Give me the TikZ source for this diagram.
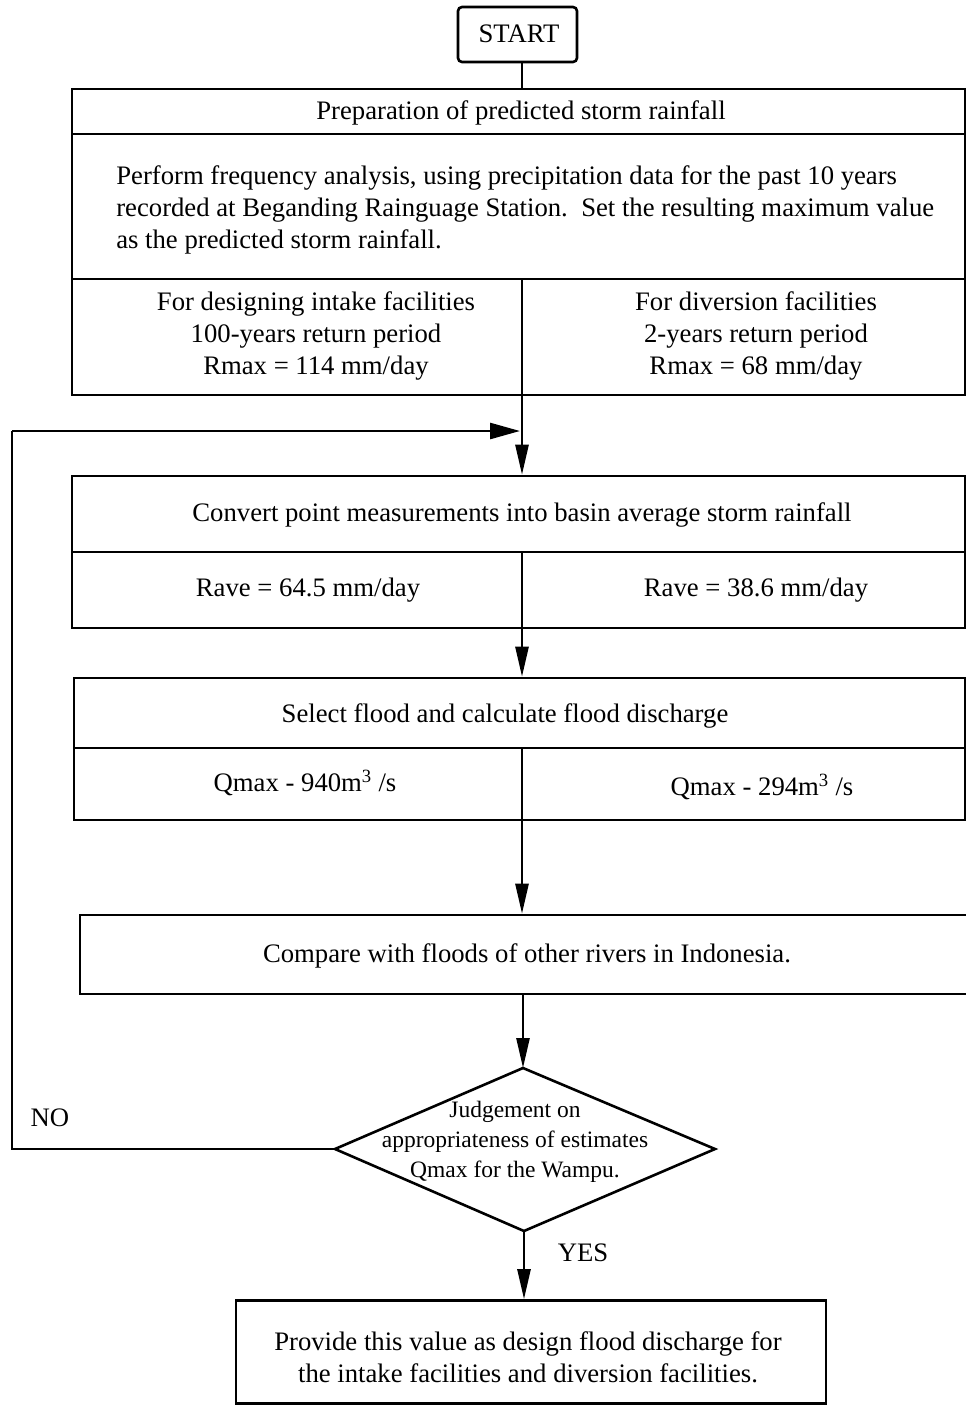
\documentclass[tikz,border=0pt]{standalone}
\usepackage{fontspec}
\setmainfont{Liberation Serif}
\usetikzlibrary{arrows.meta,shapes.geometric}
\begin{document}
\begin{tikzpicture}[x=1pt,y=-1pt,
  line width=2.6pt,
  box/.style={draw,rectangle,inner sep=0pt},
  txt/.style={inner sep=0pt,font=\fontsize{26.7}{32}\selectfont,align=center},
  dtxt/.style={inner sep=0pt,font=\fontsize{23.5}{30}\selectfont,align=center},
  arr/.style={-{Triangle[length=30pt,width=13pt]}},
  harr/.style={-{Triangle[length=30pt,width=16pt]}}
]
\useasboundingbox[fill=white] (0,0) rectangle (966,1406);
% START
\node[box,rounded corners=4pt,minimum width=119pt,minimum height=55pt] (start) at (517.5,34.5) {};
\node[txt] (starttxt) at (519,34) {START};
% Box 1
\node[box,minimum width=893pt,minimum height=306pt] (b1) at (518.5,242) {};
\coordinate (b1h) at (72,134);
\coordinate (b1s) at (72,279);
\draw (b1h) -- (b1h -| b1.east);
\draw (b1s) -- (b1s -| b1.east);
\coordinate (d1) at (522,279);
\node[txt] (t1) at (521,113) {Preparation of predicted storm rainfall};
\node[txt,align=left,anchor=west] (t2) at (115,210) {Perform frequency analysis, using precipitation data for the past 10 years\\recorded at Beganding Rainguage Station.\ \ Set the resulting maximum value\\as the predicted storm rainfall.};
\node[txt] (t3) at (316,336) {For designing intake facilities\\100-years return period\\Rmax = 114 mm/day};
\node[txt] (t4) at (756,336) {For diversion facilities\\2-years return period\\Rmax = 68 mm/day};
\coordinate (sc) at (522,62);
\draw (sc) -- (sc |- b1.north);
% Box 2
\node[box,minimum width=893pt,minimum height=152pt] (b2) at (518.5,552) {};
\coordinate (b2s) at (72,552);
\draw (b2s) -- (b2s -| b2.east);
\node[txt] (t5) at (522,515) {Convert point measurements into basin average storm rainfall};
\node[txt] (t6) at (308,590) {Rave = 64.5 mm/day};
\node[txt] (t7) at (756,590) {Rave = 38.6 mm/day};
\coordinate (d2) at (522,552);
\draw[arr] (d1) -- (d1 |- b2.north);
% Box 3
\node[box,minimum width=891pt,minimum height=142pt] (b3) at (519.5,749) {};
\coordinate (b3s) at (74,748);
\draw (b3s) -- (b3s -| b3.east);
\node[txt] (t8) at (505,716) {Select flood and calculate flood discharge};
\node[txt] (t9) at (305,783) {Qmax - 940m\textsuperscript{3} /s};
\node[txt] (t10) at (762,787) {Qmax - 294m\textsuperscript{3} /s};
\coordinate (d3) at (522,748);
\draw[arr] (d2) -- (d2 |- b3.north);
% Box 4
\node[box,minimum width=892pt,minimum height=79pt] (b4) at (526,954.5) {};
\node[txt] (t11) at (527,956) {Compare with floods of other rivers in Indonesia.};
\draw[arr] (d3) -- (d3 |- b4.north);
% Diamond
\coordinate (dt) at (523,1068);
\coordinate (dl) at (335,1149);
\coordinate (dr) at (715,1149);
\coordinate (db) at (524,1231);
\draw[line join=miter] (dt) -- (dr) -- (db) -- (dl) -- cycle;
\node[dtxt] (dia) at (515,1142) {Judgement on\\appropriateness of estimates\\Qmax for the Wampu.};
\coordinate (b4o) at (523,994);
\draw[arr] (b4o) -- (dt);
% Final box
\node[box,minimum width=590pt,minimum height=103pt] (b5) at (531,1352) {};
\node[txt] (t12) at (528,1357) {Provide this value as design flood discharge for\\the intake facilities and diversion facilities.};
\draw[arr] (db) -- (db |- b5.north);
\node[txt] (yes) at (583,1253) {YES};
% NO loop
\coordinate (nl) at (12,1149);
\coordinate (nt) at (12,431);
\coordinate (ne) at (520,431);
\draw[line join=miter] (dl) -- (nl) -- (nt);
\draw[harr] (nt) -- (ne);
\node[txt] (no) at (50,1118) {NO};
\end{tikzpicture}
\end{document}
